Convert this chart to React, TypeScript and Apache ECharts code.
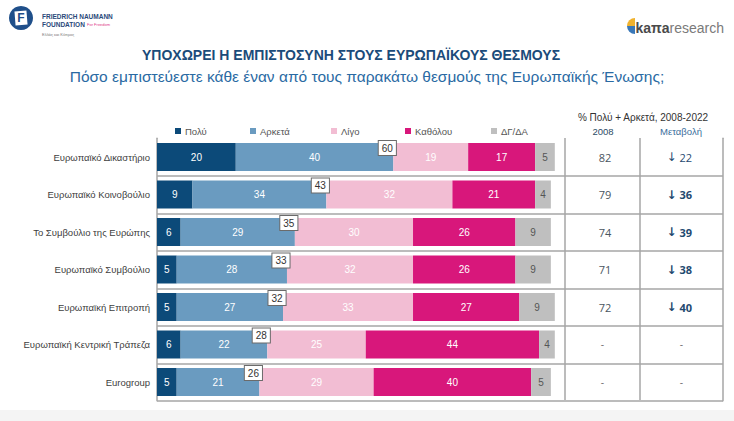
import React, { useEffect, useRef } from "react";
import * as echarts from "echarts";

const categories = [
  "Ευρωπαϊκό Δικαστήριο",
  "Ευρωπαϊκό Κοινοβούλιο",
  "Το Συμβούλιο της Ευρώπης",
  "Ευρωπαϊκό Συμβούλιο",
  "Ευρωπαϊκή Επιτροπή",
  "Ευρωπαϊκή Κεντρική Τράπεζα",
  "Eurogroup",
];
const seriesNames = ["Πολύ", "Αρκετά", "Λίγο", "Καθόλου", "ΔΓ/ΔΑ"];
const polu = [20, 9, 6, 5, 5, 6, 5];
const arketa = [40, 34, 29, 28, 27, 22, 21];
const ligo = [19, 32, 30, 32, 33, 25, 29];
const katholou = [17, 21, 26, 26, 27, 44, 40];
const dgda = [5, 4, 9, 9, 9, 4, 5];
const poluArketa = [60, 43, 35, 33, 32, 28, 26];
const value2008 = [82, 79, 74, 71, 72, null, null];
const change2008_2022 = [-22, -36, -39, -38, -40, null, null];

const COLORS = ["#0c4a79", "#6a9bc0", "#f2bdd3", "#d8177b", "#bfbfbf"];
const FONT = "'Liberation Sans', Arial, sans-serif";
const TFONT = "'Open Sans', 'Liberation Sans', Arial, sans-serif";
const AFONT = "'DejaVu Sans', sans-serif";

export default function App() {
  const ref = useRef<HTMLDivElement>(null);
  useEffect(() => {
    if (!ref.current) return;
    const chart = echarts.init(ref.current, null, { renderer: "svg" });
    const values = [polu, arketa, ligo, katholou, dgda];
    const labelColors = ["#ffffff", "#ffffff", "#ffffff", "#ffffff", "#555555"];

    const stackSeries = seriesNames.map((name, k) => ({
      name,
      type: "bar",
      stack: "all",
      yAxisIndex: 0,
      barWidth: 28,
      barGap: "-100%",
      data: values[k],
      itemStyle: { color: COLORS[k] },
      label: {
        show: true,
        position: "inside",
        color: labelColors[k],
        fontSize: 10,
        fontFamily: FONT,
      },
      emphasis: { disabled: true },
    }));

    const legendLefts = [170, 245, 326, 400, 486];

    chart.setOption({
      animation: false,
      backgroundColor: "#ffffff",
      textStyle: { fontFamily: FONT },
      legend: seriesNames.map((n, k) => ({
        data: [n],
        left: legendLefts[k],
        top: 121,
        icon: "rect",
        itemWidth: 6,
        itemHeight: 6,
        itemGap: 4,
        selectedMode: false,
        textStyle: { fontSize: 9.5, color: "#555", fontFamily: FONT, padding: [0, 0, 0, -1] },
      })),
      grid: { left: 157, right: 11, top: 138.25, bottom: 20.25, containLabel: false },
      xAxis: { type: "value", min: 0, max: 143.7, show: false },
      yAxis: [
        {
          type: "category",
          data: categories,
          inverse: true,
          axisLine: { show: true, lineStyle: { color: "#a6a6a6", width: 1.5 } },
          axisTick: { show: false },
          splitLine: {
            show: true,
            interval: (i: number) => i !== 0,
            lineStyle: { color: "#a6a6a6", width: 1.5 },
          },
          axisLabel: { color: "#404040", fontSize: 9.5, margin: 7, fontFamily: FONT },
        },
        {
          type: "category",
          data: categories,
          inverse: true,
          position: "right",
          axisLine: { show: true, lineStyle: { color: "#a6a6a6", width: 1.5 } },
          axisTick: { show: false },
          splitLine: { show: false },
          axisLabel: {
            inside: true,
            margin: 0,
            formatter: (_v: string, i: number) => {
              const a = value2008[i];
              const c = change2008_2022[i];
              if (a == null || c == null) return "{d|-}{d2|-}";
              const right =
                i === 0
                  ? `{arr|↓}{c| ${Math.abs(c)}}{pad|}`
                  : `{arrb|↓}{b| ${Math.abs(c)}}{pad|}`;
              return `{a|${a}}{sp|}` + right;
            },
            rich: {
              a: { width: 75, align: "center", color: "#4a5560", fontSize: 11, fontFamily: TFONT },
              d: { width: 75, align: "center", color: "#777", fontSize: 10, fontFamily: FONT },
              sp: { width: 24 },
              arr: { color: "#1f4a70", fontSize: 12, fontFamily: AFONT },
              arrb: { color: "#1f4a70", fontSize: 12, fontWeight: "bold", fontFamily: AFONT },
              b: { color: "#1f4a70", fontSize: 11, fontWeight: "bold", fontFamily: TFONT },
              c: { color: "#1f4a70", fontSize: 11, fontFamily: TFONT },
              pad: { width: 31 },
              d2: { width: 83, align: "center", color: "#777", fontSize: 10, fontFamily: FONT },
            },
          },
        },
      ],
      series: [
        ...stackSeries,
        {
          name: "Πολύ + Αρκετά",
          type: "bar",
          stack: "tot",
          yAxisIndex: 0,
          barWidth: 28,
          barGap: "-100%",
          data: poluArketa,
          itemStyle: { color: "rgba(0,0,0,0)" },
          z: 5,
          label: {
            show: true,
            position: ["100%", -2],
            align: "center",
            verticalAlign: "top",
            offset: [-6, 0],
            color: "#333",
            fontSize: 10,
            fontFamily: FONT,
            backgroundColor: "#ffffff",
            borderColor: "#6b6b6b",
            borderWidth: 1,
            padding: [2, 3, 2, 3],
          },
          emphasis: { disabled: true },
        },
      ],
      graphic: [
        { type: "rect", shape: { x: 0, y: 410, width: 734, height: 11 }, style: { fill: "#f4f4f4" }, silent: true },
        { type: "line", shape: { x1: 565, y1: 138, x2: 565, y2: 400 }, style: { stroke: "#a6a6a6", lineWidth: 1.5 }, silent: true },
        { type: "line", shape: { x1: 640, y1: 138, x2: 640, y2: 400 }, style: { stroke: "#a6a6a6", lineWidth: 1.5 }, silent: true },
        {
          type: "text", x: 351, y: 55,
          style: { text: "ΥΠΟΧΩΡΕΙ Η ΕΜΠΙΣΤΟΣΥΝΗ ΣΤΟΥΣ ΕΥΡΩΠΑΪΚΟΥΣ ΘΕΣΜΟΥΣ", fill: "#1b4b7a", font: `bold 14px ${FONT}`, textAlign: "center", textVerticalAlign: "middle" },
        },
        {
          type: "text", x: 367, y: 76,
          style: { text: "Πόσο εμπιστεύεστε κάθε έναν από τους παρακάτω θεσμούς της Ευρωπαϊκής Ένωσης;", fill: "#2a6aa3", font: `15.5px ${FONT}`, textAlign: "center", textVerticalAlign: "middle" },
        },
        {
          type: "text", x: 643, y: 117,
          style: { text: "% Πολύ + Αρκετά, 2008-2022", fill: "#333", font: `10px ${FONT}`, textAlign: "center", textVerticalAlign: "middle" },
        },
        {
          type: "text", x: 603, y: 131,
          style: { text: "2008", fill: "#2c4b66", font: `9.5px ${FONT}`, textAlign: "center", textVerticalAlign: "middle" },
        },
        {
          type: "text", x: 681, y: 131,
          style: { text: "Μεταβολή", fill: "#3a6e9c", font: `9.5px ${FONT}`, textAlign: "center", textVerticalAlign: "middle" },
        },
        // Friedrich Naumann logo
        { type: "circle", shape: { cx: 21, cy: 18, r: 12 }, style: { fill: "#1f4f8a" }, silent: true },
        { type: "rect", shape: { x: 15, y: 11, width: 12, height: 14 }, style: { fill: "#ffffff" }, rotation: 0.08, originX: 21, originY: 18, silent: true },
        {
          type: "text", x: 21, y: 18,
          style: { text: "F", fill: "#1f4f8a", font: `bold 12px ${FONT}`, textAlign: "center", textVerticalAlign: "middle" },
        },
        {
          type: "text", x: 42, y: 16,
          style: { text: "FRIEDRICH NAUMANN", fill: "#2a4a7a", font: `bold 6.5px ${FONT}`, textAlign: "left", textVerticalAlign: "middle" },
        },
        {
          type: "text", x: 42, y: 24,
          style: { text: "FOUNDATION", fill: "#2a4a7a", font: `bold 6.5px ${FONT}`, textAlign: "left", textVerticalAlign: "middle" },
        },
        {
          type: "text", x: 87, y: 24.5,
          style: { text: "For Freedom", fill: "#e0408a", font: `4px ${FONT}`, textAlign: "left", textVerticalAlign: "middle" },
        },
        {
          type: "text", x: 42, y: 34,
          style: { text: "Ελλάς και Κύπρος", fill: "#777", font: `4px ${FONT}`, textAlign: "left", textVerticalAlign: "middle" },
        },
        // kapa research logo
        { type: "sector", shape: { cx: 635, cy: 26, r0: 0, r: 8, startAngle: Math.PI, endAngle: Math.PI * 1.5 }, style: { fill: "#f0b22e" }, silent: true },
        { type: "sector", shape: { cx: 635, cy: 26, r0: 0, r: 8, startAngle: Math.PI * 0.5, endAngle: Math.PI }, style: { fill: "#3a78b8" }, silent: true },
        {
          type: "text", x: 724, y: 28,
          style: {
            text: "{k|kaπa}{r|research}",
            textAlign: "right",
            textVerticalAlign: "middle",
            rich: {
              k: { fill: "#4a4a4a", font: `bold 14px ${FONT}` },
              r: { fill: "#7a7a7a", font: `14px ${FONT}` },
            },
          },
        },
      ],
    });
    return () => chart.dispose();
  }, []);
  return (
    <div
      ref={ref}
      style={{ position: "absolute", left: 0, top: 0, width: 734, height: 421, background: "#fff" }}
    />
  );
}
